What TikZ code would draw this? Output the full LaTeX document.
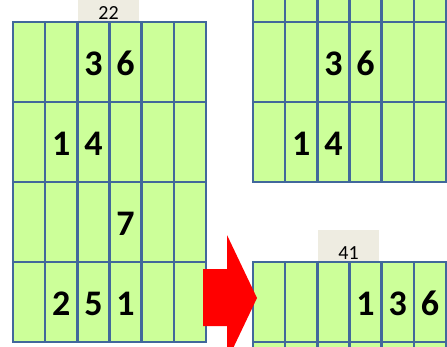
\documentclass[tikz,border=0pt]{standalone}
\usepackage{fontspec}
\setmainfont{Carlito}

\definecolor{slotgreen}{RGB}{204,255,153}
\definecolor{slotblue}{RGB}{65,104,155}
\definecolor{tagbeige}{RGB}{238,236,225}

\tikzset{
  slot/.style={fill=slotgreen, draw=slotblue, line width=2.6pt},
  num/.style={font=\fontsize{36}{36}\selectfont\bfseries, inner sep=0pt, anchor=base},
  tagbox/.style={fill=tagbeige},
  tagtext/.style={font=\fontsize{20}{20}\selectfont, inner sep=0pt, anchor=base}
}

\begin{document}
\begin{tikzpicture}[x=1pt,y=-1pt]
\useasboundingbox (0,0) rectangle (447,346);
\clip (0,0) rectangle (447,346);

% tags
\fill[tagbox] (78,0) rectangle (139,22);
\node[tagtext] (tag22) at (108.5,19.3) {22};
\fill[tagbox] (318,230) rectangle (379,262);
\node[tagtext] (tag41) at (348.5,259.3) {41};

% left block, 6 x 4
\foreach \c in {1,...,6}
  \foreach \r in {1,...,4}
    \filldraw[slot] ({13+32.17*(\c-1)},{22+80*(\r-1)}) rectangle ++(32.17,80);

% right top block, 6 x 3 (top row cut off)
\foreach \c in {1,...,6}
  \foreach \r in {0,...,2}
    \filldraw[slot] ({253+32.17*(\c-1)},{22+80*(\r-1)}) rectangle ++(32.17,80);

% right bottom block
\foreach \c in {1,...,6}
  \foreach \r in {1,2}
    \filldraw[slot] ({253+32.17*(\c-1)},{262+80*(\r-1)}) rectangle ++(32.17,80);

% numbers: column/row/digit
\foreach \c/\r/\d in {3/1/3, 4/1/6, 2/2/1, 3/2/4, 4/3/7, 2/4/2, 3/4/5, 4/4/1}
  \node[num] (L\r\c) at ({13+32.17*(\c-0.5)},{22+80*(\r-1)+53.5}) {\d};

\foreach \c/\r/\d in {3/1/3, 4/1/6, 2/2/1, 3/2/4}
  \node[num] (T\r\c) at ({253+32.17*(\c-0.5)},{22+80*(\r-1)+53.5}) {\d};

\foreach \c/\d in {4/1, 5/3, 6/6}
  \node[num] (B\c) at ({253+32.17*(\c-0.5)},{262+53.5}) {\d};

% arrow
\fill[red] (203,269) -- (227,269) -- (227,235) -- (257,298) -- (227,361)
  -- (227,326) -- (203,326) -- cycle;

\end{tikzpicture}
\end{document}
